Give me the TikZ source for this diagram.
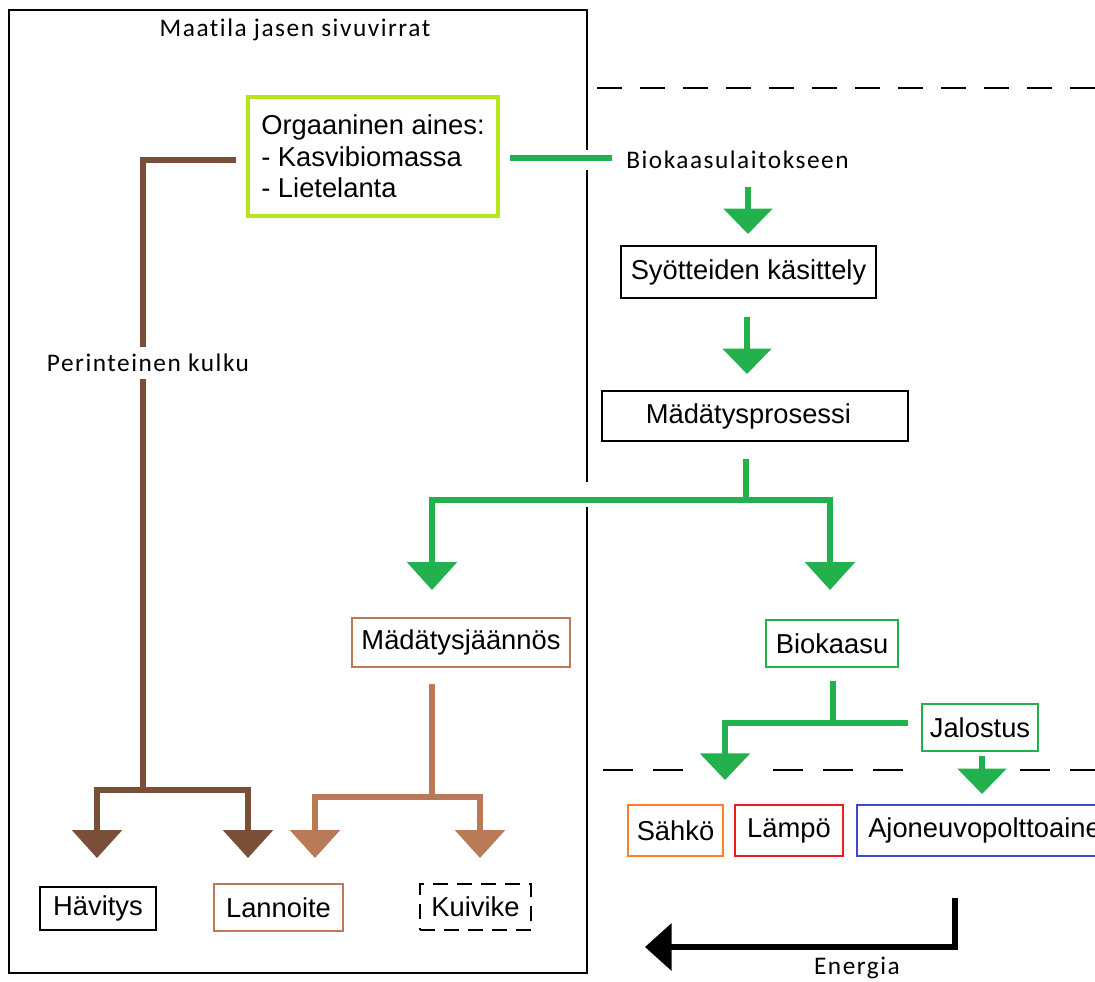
\documentclass[tikz,border=0pt]{standalone}
\usepackage{fontspec}
\setmainfont{Liberation Sans}
\newfontfamily\calfont[LetterSpace=6,Ligatures={NoCommon,NoRare,NoContextual}]{Carlito}
\usetikzlibrary{arrows.meta,calc}
\definecolor{limeg}{HTML}{B5E61D}
\definecolor{greenA}{HTML}{22B14C}
\definecolor{brownD}{HTML}{7A4F37}
\definecolor{tanB}{HTML}{B97A57}
\definecolor{orangeP}{HTML}{FF7F27}
\definecolor{redP}{HTML}{ED1C24}
\definecolor{blueP}{HTML}{3F48CC}
\begin{document}
\begin{tikzpicture}[x=0.75pt,y=-0.75pt,
  every node/.style={font=\fontsize{20.5pt}{23.6pt}\selectfont, inner sep=0pt},
  bx/.style 2 args={draw, line width=1.5pt, minimum width=#1*0.75pt, minimum height=#2*0.75pt},
  lbl/.style={font=\calfont\fontsize{19pt}{22pt}\selectfont},
  flow/.style={line width=4pt},
  gtip/.style={-{Triangle[width=36pt,length=19pt]}},
  ttip/.style={{Triangle[width=37pt,length=21pt]}-{Triangle[width=37pt,length=21pt]}},
  stip/.style={{Triangle[width=37pt,length=20pt]}-},
  etip/.style={-{Triangle[width=35pt,length=20pt]}},
  dashline/.style={line width=1.3pt, dash pattern=on 18.75pt off 13.5pt}
]
\useasboundingbox (0,0) rectangle (1095,981);
\clip (0,0) rectangle (1095,981);

% frame
\draw[line width=1.5pt] (9,10) rectangle (587,973);
\fill[white] (583,150) rectangle (591,170);
\fill[white] (583,482) rectangle (591,507);

% dashed separators
\draw[dashline] (597,88) -- (1095,88);
\draw[dashline, dash pattern=on 22.5pt off 15pt] (603,770) -- (683,770);
\draw[dashline, dash pattern=on 22.5pt off 15pt] (773,770) -- (903,770);
\draw[dashline, dash pattern=on 22.5pt off 15pt] (1020,770) -- (1095,770);

% nodes
\node (title) [lbl] at (295,30) {Maatila jasen sivuvirrat};
\node (org) [bx={250}{119}, draw=limeg, line width=3.4pt, align=left] at (373,156.5) {Orgaaninen aines:\\- Kasvibiomassa\\- Lietelanta};
\node (bk) [lbl, anchor=west] at (626,160) {Biokaasulaitokseen};
\node (syot) [bx={255}{52}] at (748.5,272) {Syötteiden käsittely};
\node (madat) [bx={306}{50}] at (755,416) {Mädätysprosessi\hspace*{10pt}};
\node (jaan) [bx={218}{49}, draw=tanB] at (461,642.5) {Mädätysjäännös};
\node (bio) [bx={132}{47}, draw=greenA] at (832,643.5) {Biokaasu};
\node (jal) [bx={116}{47}, draw=greenA] at (980,727.5) {Jalostus};
\node (sahko) [bx={95}{51}, draw=orangeP] at (675.5,830.5) {Sähkö};
\node (lampo) [bx={108}{51}, draw=redP] at (789,830.5) {Lämpö};
\node (ajo) [bx={255}{51}, draw=blueP] at (984.5,830.5) {Ajoneuvopolttoaine};
\node (hav) [bx={116}{43}] at (98,908.5) {Hävitys};
\node (lan) [bx={129}{47}, draw=tanB] at (278.5,907.5) {Lannoite};
\node (kui) [bx={111}{46}, dash pattern=on 11pt off 7pt] at (475.5,907) {Kuivike};

% brown: traditional route
\coordinate (b1) at (143,790);
\coordinate (bt1) at (97,858);
\coordinate (bt2) at (248,858);
\draw[flow, brownD, line join=miter] ($(org.west)+(-10,3.5)$) -| (b1);
\draw[flow, brownD, ttip] (bt1) |- (b1) -| (bt2);
\node (perint) [lbl, fill=white, inner ysep=5pt] at (148,363) {Perinteinen kulku};

% green: to biogas plant
\draw[flow, greenA] ($(org.east)+(10,1.5)$) -- ($(bk.west)+(-14,-2)$);
\draw[flow, greenA, gtip] ($(syot.north)+(-0.5,-58)$) -- ($(syot.north)+(-0.5,-11)$);
\draw[flow, greenA, gtip] ($(syot.south)+(-1.5,18)$) -- ($(madat.north)+(-8,-16)$);
\coordinate (m1) at ($(madat.south)+(-9,17)$);
\coordinate (m2) at (746,500);
\coordinate (mt1) at (432,590);
\coordinate (mt2) at (830,590);
\draw[flow, greenA] (m1) -- (m2);
\draw[flow, greenA, ttip] (mt1) |- (m2) -| (mt2);

% tan: digestate
\coordinate (d1) at ($(jaan.south)+(-29,16)$);
\coordinate (d2) at (432,797);
\coordinate (dt1) at (315,858);
\coordinate (dt2) at (480,858);
\draw[flow, tanB] (d1) -- (d2);
\draw[flow, tanB, ttip] (dt1) |- (d2) -| (dt2);

% green: biogas
\coordinate (k1) at ($(bio.south)+(1,13)$);
\coordinate (k2) at (833,723);
\coordinate (kt) at (725,780);
\coordinate (k3) at (908,723);
\draw[flow, greenA] (k1) -- (k2);
\draw[flow, greenA, stip] (kt) |- (k3);
\draw[flow, greenA, gtip] ($(jal.south)+(2,4)$) -- ($(ajo.north)+(-2.5,-10)$);

% energy arrow
\coordinate (e1) at (955,898);
\coordinate (e2) at (645,947);
\draw[flow, black, etip] (e1) |- (e2);
\node (energia) [lbl] at (857,968) {Energia};
\end{tikzpicture}
\end{document}
